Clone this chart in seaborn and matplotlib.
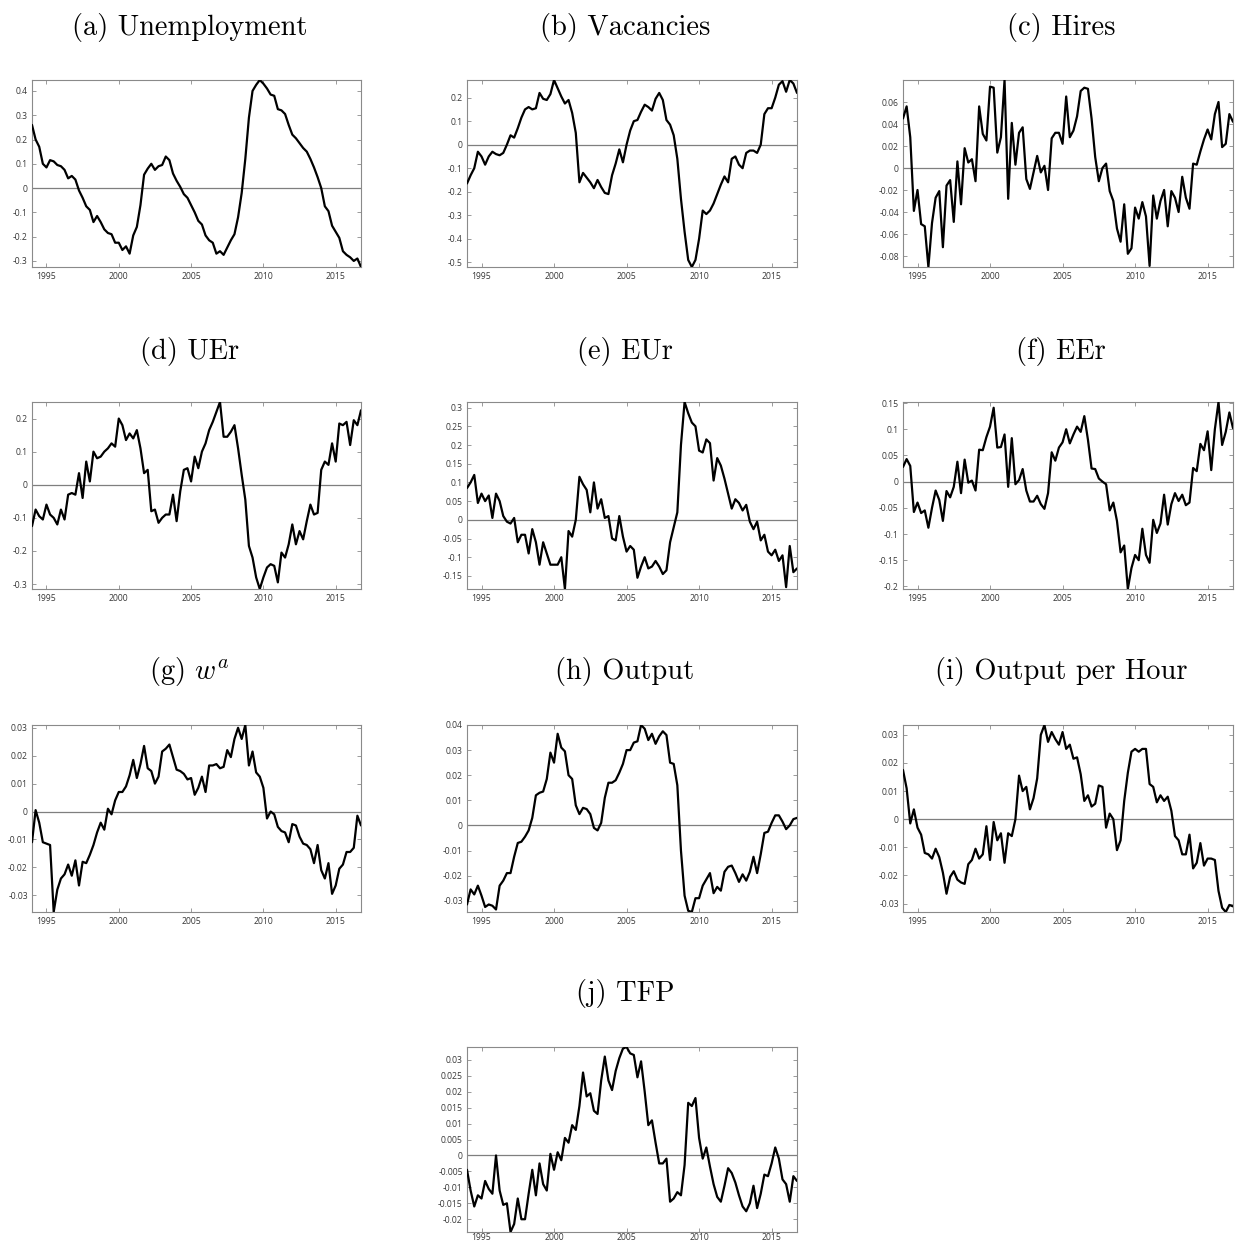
import numpy as np
import pandas as pd
import matplotlib
matplotlib.use("Agg")
import matplotlib.pyplot as plt
import seaborn as sns

# ---------------- data (quarterly, 1994Q1 - 2016Q4) ----------------
start_year = 1994
n_quarters = 92

unemployment = [
    0.26, 0.20, 0.17, 0.10,
    0.085, 0.115, 0.11, 0.095,
    0.09, 0.075, 0.04, 0.05,
    0.035, -0.01, -0.04, -0.075,
    -0.09, -0.14, -0.115, -0.14,
    -0.17, -0.185, -0.19, -0.225,
    -0.225, -0.255, -0.24, -0.27,
    -0.195, -0.16, -0.07, 0.055,
    0.08, 0.10, 0.075, 0.09,
    0.095, 0.13, 0.115, 0.06,
    0.03, 0.005, -0.025, -0.04,
    -0.07, -0.10, -0.135, -0.15,
    -0.195, -0.215, -0.225, -0.27,
    -0.26, -0.275, -0.245, -0.215,
    -0.19, -0.12, -0.02, 0.12,
    0.29, 0.40, 0.425, 0.445,
    0.43, 0.41, 0.385, 0.38,
    0.325, 0.32, 0.305, 0.26,
    0.22, 0.205, 0.185, 0.165,
    0.15, 0.12, 0.085, 0.045,
    0.0, -0.075, -0.095, -0.155,
    -0.18, -0.205, -0.26, -0.275,
    -0.285, -0.30, -0.29, -0.325,
]

vacancies = [
    -0.165, -0.13, -0.10, -0.03,
    -0.05, -0.085, -0.05, -0.03,
    -0.04, -0.045, -0.035, 0.0,
    0.04, 0.03, 0.07, 0.115,
    0.15, 0.16, 0.15, 0.155,
    0.22, 0.195, 0.19, 0.215,
    0.275, 0.24, 0.205, 0.175,
    0.19, 0.135, 0.05, -0.16,
    -0.12, -0.14, -0.16, -0.185,
    -0.15, -0.18, -0.205, -0.21,
    -0.13, -0.08, -0.02, -0.075,
    0.0, 0.06, 0.10, 0.105,
    0.14, 0.17, 0.16, 0.145,
    0.195, 0.22, 0.19, 0.105,
    0.085, 0.04, -0.06, -0.23,
    -0.37, -0.49, -0.52, -0.49,
    -0.40, -0.28, -0.295, -0.28,
    -0.25, -0.21, -0.17, -0.135,
    -0.16, -0.06, -0.05, -0.085,
    -0.10, -0.035, -0.025, -0.025,
    -0.035, 0.0, 0.13, 0.155,
    0.155, 0.20, 0.255, 0.27,
    0.225, 0.275, 0.26, 0.22,
]

hires = [
    0.045, 0.056, 0.028, -0.039,
    -0.02, -0.051, -0.053, -0.09,
    -0.05, -0.027, -0.021, -0.072,
    -0.016, -0.011, -0.049, 0.006,
    -0.033, 0.018, 0.005, 0.008,
    -0.012, 0.056, 0.031, 0.025,
    0.074, 0.073, 0.014, 0.028,
    0.08, -0.028, 0.041, 0.003,
    0.032, 0.037, -0.01, -0.019,
    -0.004, 0.011, -0.004, 0.002,
    -0.02, 0.027, 0.032, 0.032,
    0.022, 0.065, 0.028, 0.034,
    0.047, 0.07, 0.073, 0.072,
    0.045, 0.01, -0.012, 0.0,
    0.004, -0.021, -0.03, -0.055,
    -0.067, -0.033, -0.078, -0.073,
    -0.036, -0.046, -0.031, -0.044,
    -0.089, -0.025, -0.046, -0.03,
    -0.02, -0.053, -0.021, -0.027,
    -0.04, -0.008, -0.027, -0.037,
    0.004, 0.003, 0.015, 0.026,
    0.035, 0.026, 0.049, 0.06,
    0.019, 0.022, 0.049, 0.042,
]

uer = [
    -0.125, -0.075, -0.095, -0.105,
    -0.06, -0.09, -0.10, -0.12,
    -0.075, -0.105, -0.03, -0.025,
    -0.03, 0.035, -0.04, 0.07,
    0.01, 0.10, 0.08, 0.085,
    0.10, 0.11, 0.125, 0.115,
    0.20, 0.18, 0.135, 0.155,
    0.14, 0.165, 0.11, 0.035,
    0.045, -0.08, -0.075, -0.115,
    -0.10, -0.09, -0.09, -0.03,
    -0.11, -0.02, 0.045, 0.05,
    0.01, 0.085, 0.05, 0.10,
    0.125, 0.165, 0.19, 0.22,
    0.25, 0.145, 0.145, 0.16,
    0.18, 0.11, 0.03, -0.045,
    -0.185, -0.22, -0.28, -0.315,
    -0.28, -0.25, -0.24, -0.245,
    -0.295, -0.205, -0.22, -0.18,
    -0.12, -0.18, -0.14, -0.165,
    -0.11, -0.06, -0.09, -0.085,
    0.045, 0.07, 0.06, 0.125,
    0.07, 0.185, 0.18, 0.19,
    0.12, 0.195, 0.18, 0.225,
]

eur = [
    0.085, 0.10, 0.12, 0.045,
    0.07, 0.05, 0.065, 0.005,
    0.07, 0.05, 0.01, -0.005,
    -0.01, 0.005, -0.06, -0.04,
    -0.04, -0.09, -0.025, -0.06,
    -0.12, -0.06, -0.09, -0.12,
    -0.12, -0.12, -0.10, -0.185,
    -0.03, -0.045, 0.0, 0.115,
    0.095, 0.08, 0.02, 0.10,
    0.03, 0.055, 0.005, 0.01,
    -0.05, -0.055, 0.01, -0.045,
    -0.085, -0.07, -0.08, -0.155,
    -0.125, -0.10, -0.13, -0.125,
    -0.11, -0.125, -0.145, -0.135,
    -0.06, -0.02, 0.02, 0.20,
    0.315, 0.285, 0.26, 0.25,
    0.185, 0.18, 0.215, 0.205,
    0.105, 0.165, 0.145, 0.11,
    0.07, 0.03, 0.055, 0.045,
    0.025, 0.04, -0.005, -0.025,
    -0.005, -0.055, -0.04, -0.085,
    -0.095, -0.08, -0.11, -0.095,
    -0.18, -0.07, -0.14, -0.13,
]

eer = [
    0.028, 0.043, 0.03, -0.058,
    -0.04, -0.06, -0.055, -0.088,
    -0.05, -0.017, -0.035, -0.075,
    -0.018, -0.03, -0.01, 0.038,
    -0.022, 0.042, -0.002, 0.002,
    -0.017, 0.061, 0.06, 0.085,
    0.105, 0.141, 0.065, 0.066,
    0.09, -0.01, 0.083, -0.005,
    0.003, 0.024, -0.017, -0.038,
    -0.038, -0.027, -0.043, -0.052,
    -0.022, 0.056, 0.04, 0.065,
    0.075, 0.10, 0.073, 0.09,
    0.105, 0.095, 0.125, 0.08,
    0.025, 0.024, 0.006, 0.0,
    -0.005, -0.055, -0.04, -0.075,
    -0.135, -0.122, -0.205, -0.165,
    -0.14, -0.15, -0.09, -0.14,
    -0.155, -0.073, -0.098, -0.08,
    -0.025, -0.082, -0.043, -0.022,
    -0.037, -0.025, -0.045, -0.04,
    0.026, 0.02, 0.072, 0.06,
    0.096, 0.022, 0.10, 0.152,
    0.07, 0.095, 0.132, 0.102,
]

wage_a = [
    -0.011, 0.0005, -0.004, -0.011,
    -0.0115, -0.012, -0.036, -0.028,
    -0.024, -0.0225, -0.019, -0.023,
    -0.0175, -0.0265, -0.018, -0.0185,
    -0.0155, -0.012, -0.0075, -0.004,
    -0.0065, 0.001, -0.001, 0.004,
    0.007, 0.007, 0.009, 0.013,
    0.0185, 0.012, 0.017, 0.0235,
    0.0155, 0.0145, 0.010, 0.0125,
    0.0215, 0.0225, 0.024, 0.0195,
    0.015, 0.0145, 0.0135, 0.0115,
    0.012, 0.006, 0.0085, 0.0125,
    0.007, 0.0165, 0.0165, 0.017,
    0.0155, 0.016, 0.022, 0.0195,
    0.026, 0.030, 0.026, 0.031,
    0.0165, 0.0215, 0.014, 0.0125,
    0.0085, -0.0025, 0.0, -0.001,
    -0.0055, -0.007, -0.0075, -0.011,
    -0.0045, -0.005, -0.009, -0.0115,
    -0.012, -0.0135, -0.0185, -0.012,
    -0.021, -0.024, -0.0185, -0.0295,
    -0.0265, -0.0205, -0.019, -0.0145,
    -0.0145, -0.013, -0.0015, -0.005,
]

output = [
    -0.0315, -0.0255, -0.0275, -0.024,
    -0.028, -0.0325, -0.0315, -0.032,
    -0.0335, -0.024, -0.022, -0.019,
    -0.019, -0.0125, -0.007, -0.0065,
    -0.0045, -0.002, 0.003, 0.012,
    0.013, 0.0135, 0.0185, 0.029,
    0.025, 0.0365, 0.031, 0.0295,
    0.020, 0.0185, 0.008, 0.0045,
    0.007, 0.0065, 0.0045, -0.001,
    -0.002, 0.001, 0.011, 0.017,
    0.017, 0.018, 0.021, 0.0245,
    0.030, 0.030, 0.033, 0.0335,
    0.040, 0.0385, 0.034, 0.0365,
    0.0325, 0.0355, 0.0375, 0.036,
    0.025, 0.0245, 0.016, -0.010,
    -0.028, -0.034, -0.0345, -0.029,
    -0.029, -0.024, -0.0215, -0.019,
    -0.027, -0.0245, -0.026, -0.0185,
    -0.0165, -0.016, -0.019, -0.0225,
    -0.0195, -0.022, -0.0185, -0.0125,
    -0.019, -0.0115, -0.003, -0.0025,
    0.001, 0.004, 0.004, 0.0015,
    -0.0015, 0.0, 0.0025, 0.003,
]

output_per_hour = [
    0.0175, 0.011, -0.0015, 0.0035,
    -0.003, -0.0055, -0.012, -0.0125,
    -0.014, -0.0105, -0.0135, -0.019,
    -0.0265, -0.0205, -0.0185, -0.0215,
    -0.0225, -0.023, -0.016, -0.0145,
    -0.0105, -0.014, -0.0125, -0.0025,
    -0.0145, -0.001, -0.0075, -0.005,
    -0.0155, -0.005, -0.006, 0.0,
    0.0155, 0.010, 0.0115, 0.0035,
    0.0075, 0.0145, 0.030, 0.0335,
    0.0275, 0.031, 0.0285, 0.0265,
    0.031, 0.025, 0.0265, 0.0215,
    0.022, 0.016, 0.0065, 0.0085,
    0.0045, 0.0055, 0.012, 0.0115,
    -0.003, 0.002, 0.0, -0.011,
    -0.0075, 0.0065, 0.0165, 0.024,
    0.025, 0.024, 0.025, 0.025,
    0.0125, 0.0115, 0.006, 0.0085,
    0.0065, 0.008, 0.003, -0.006,
    -0.0075, -0.0125, -0.0125, -0.0055,
    -0.0175, -0.0155, -0.0085, -0.0165,
    -0.014, -0.014, -0.0145, -0.0255,
    -0.0315, -0.033, -0.0305, -0.031,
]

tfp = [
    -0.0045, -0.011, -0.016, -0.0125,
    -0.0135, -0.008, -0.0105, -0.012,
    0.0, -0.011, -0.0155, -0.015,
    -0.024, -0.0215, -0.0135, -0.020,
    -0.020, -0.012, -0.0045, -0.0125,
    -0.0025, -0.009, -0.011, 0.0005,
    -0.0045, 0.001, -0.0015, 0.0055,
    0.004, 0.0095, 0.008, 0.0155,
    0.026, 0.0185, 0.0195, 0.014,
    0.013, 0.0235, 0.031, 0.0235,
    0.0205, 0.0265, 0.0305, 0.0335,
    0.034, 0.032, 0.0315, 0.0245,
    0.0295, 0.020, 0.0095, 0.011,
    0.004, -0.0025, -0.0025, -0.001,
    -0.0145, -0.0135, -0.0115, -0.0125,
    -0.003, 0.0165, 0.0155, 0.018,
    0.0055, -0.001, 0.0025, -0.0035,
    -0.009, -0.013, -0.0145, -0.0095,
    -0.004, -0.0055, -0.0085, -0.0125,
    -0.016, -0.0175, -0.015, -0.0095,
    -0.0165, -0.012, -0.006, -0.0065,
    -0.0025, 0.0025, -0.001, -0.0075,
    -0.009, -0.0145, -0.0065, -0.008,
]

titles = ["(a) Unemployment", "(b) Vacancies", "(c) Hires",
          "(d) UEr", "(e) EUr", "(f) EEr",
          "(g) $w^a$", "(h) Output", "(i) Output per Hour",
          "(j) TFP"]

series = [unemployment, vacancies, hires, uer, eur, eer,
          wage_a, output, output_per_hour, tfp]

x_ticks = [1995, 2000, 2005, 2010, 2015]

y_ticks = [
    [-0.3, -0.2, -0.1, 0, 0.1, 0.2, 0.3, 0.4],
    [-0.5, -0.4, -0.3, -0.2, -0.1, 0, 0.1, 0.2],
    [-0.08, -0.06, -0.04, -0.02, 0, 0.02, 0.04, 0.06],
    [-0.3, -0.2, -0.1, 0, 0.1, 0.2],
    [-0.15, -0.1, -0.05, 0, 0.05, 0.1, 0.15, 0.2, 0.25, 0.3],
    [-0.2, -0.15, -0.1, -0.05, 0, 0.05, 0.1, 0.15],
    [-0.03, -0.02, -0.01, 0, 0.01, 0.02, 0.03],
    [-0.03, -0.02, -0.01, 0, 0.01, 0.02, 0.03, 0.04],
    [-0.03, -0.02, -0.01, 0, 0.01, 0.02, 0.03],
    [-0.02, -0.015, -0.01, -0.005, 0, 0.005, 0.01, 0.015, 0.02, 0.025, 0.03],
]

# ---------------- figure ----------------
sns.set_theme(style="white")
plt.rcParams["font.family"] = ["Open Sans", "DejaVu Sans"]
plt.rcParams["mathtext.fontset"] = "cm"

W, H = 1238, 1245
fig = plt.figure(figsize=(W / 100, H / 100), dpi=100)
fig.patch.set_facecolor("white")

col_x = [(32, 361), (467, 797), (903, 1233)]
row_y = [(80, 267), (402, 589), (725, 912), (1047, 1232)]
title_y = [27, 351, 672, 993]

years = start_year + np.arange(n_quarters) / 4.0

grid_pos = [(0, 0), (0, 1), (0, 2), (1, 0), (1, 1), (1, 2),
            (2, 0), (2, 1), (2, 2), (3, 1)]

frame_col = "#8a8a8a"

for k, (r, c) in enumerate(grid_pos):
    x0, x1 = col_x[c]
    yt, yb = row_y[r]
    ax = fig.add_axes([x0 / W, 1 - yb / H, (x1 - x0) / W, (yb - yt) / H])
    df = pd.DataFrame({"year": years, "value": series[k]})
    ax.axhline(0, color="#7f7f7f", lw=0.9, zorder=1)
    sns.lineplot(data=df, x="year", y="value", ax=ax, color="black",
                 lw=1.6, zorder=3)
    vals = np.array(series[k])
    ax.set_xlim(years[0], years[-1])
    ax.set_ylim(vals.min(), vals.max())
    ax.set_xticks(x_ticks)
    ax.set_xticklabels([str(t) for t in x_ticks])
    ax.set_yticks(y_ticks[k])
    ax.set_yticklabels([f"{v:g}" for v in y_ticks[k]])
    ax.set_xlabel("")
    ax.set_ylabel("")
    ax.tick_params(direction="in", length=3, width=0.6, color=frame_col,
                   top=True, right=True, bottom=True, left=True,
                   labelsize=6.2, labelcolor="#383838")
    ax.tick_params(axis="x", pad=(1.0 if r == 3 else 3.5))
    ax.tick_params(axis="y", pad=3)
    for s in ax.spines.values():
        s.set_color(frame_col)
        s.set_linewidth(0.8)
        s.set_visible(True)
    cx = (x0 + x1) / 2 - 7
    fig.text(cx / W, 1 - title_y[r] / H, titles[k], ha="center", va="center",
             fontsize=20.5, family="cmr10", color="black")

fig.savefig("out.png", dpi=100, facecolor="white")
